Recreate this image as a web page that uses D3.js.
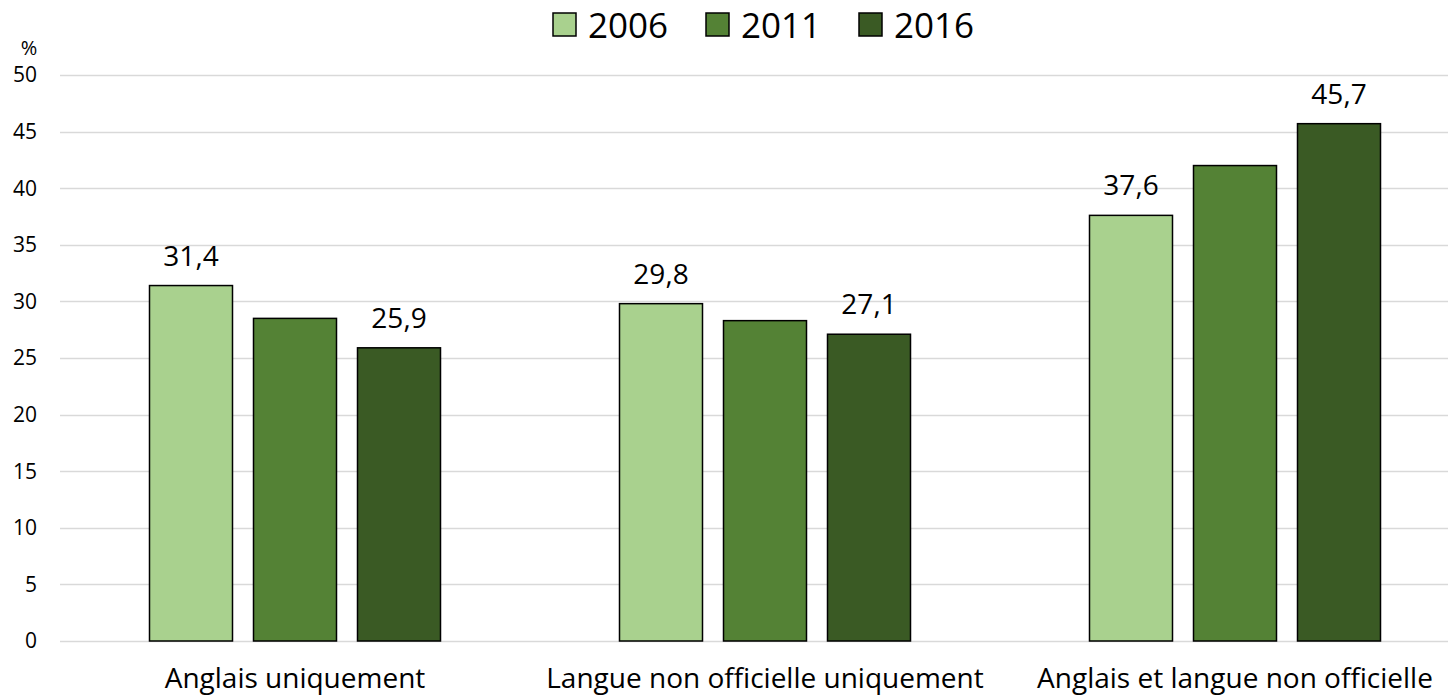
<!DOCTYPE html>
<html>
<head>
<meta charset="utf-8">
<script src="https://cdn.jsdelivr.net/npm/d3@7"></script>
<style>
  body { margin: 0; background: #fff; }
  text { font-family: "Open Sans", sans-serif; fill: #000; }
</style>
</head>
<body>
<div id="chart"></div>
<script>
// categories and series
var categories = ["Anglais uniquement", "Langue non officielle uniquement", "Anglais et langue non officielle"];
var years = ["2006", "2011", "2016"];
var values2006 = [31.4, 29.8, 37.6];
var values2011 = [28.5, 28.3, 42.0];
var values2016 = [25.9, 27.1, 45.7];
var colors = ["#A9D18E", "#548235", "#3A5A24"];
// which bars carry a value label (as in the original)
var labelled = [[true, false, true], [true, false, true], [true, false, true]];
var yTicks = [0, 5, 10, 15, 20, 25, 30, 35, 40, 45, 50];

(function() {
    var width = 1448,
        height = 697;

    var svg = d3.select("#chart").append("svg")
        .attr("width", width).attr("height", height);

    var series = [values2006, values2011, values2016];

    var x = d3.scaleBand().domain(categories).range([60, 1470]);
    // inner band for the three bars of a group
    var xi = d3.scaleBand().domain(years)
        .range([0, 104 * 3 - 21]).paddingInner(21 / 104);

    var y = d3.scaleLinear().domain([0, 50]).range([641, 75]);

    //gridlines
    svg.append("g").selectAll("line")
        .data(yTicks).enter().append("line")
        .attr("x1", 60).attr("x2", width)
        .attr("y1", function(d) { return Math.round(y(d)) + 0.5; })
        .attr("y2", function(d) { return Math.round(y(d)) + 0.5; })
        .attr("stroke", "#D9D9D9").attr("stroke-width", 1.5);

    //y tick labels
    svg.append("g").selectAll("text")
        .data(yTicks).enter().append("text")
        .attr("x", 37).attr("y", function(d) { return y(d); })
        .attr("dy", "0.35em")
        .attr("text-anchor", "end")
        .style("font-size", "21px")
        .text(function(d) { return d; });

    svg.append("text")
        .attr("x", 29).attr("y", 55)
        .attr("text-anchor", "middle")
        .style("font-size", "20px")
        .text("%");

    //bars
    var groups = svg.append("g").selectAll("g")
        .data(categories).enter().append("g")
        .attr("transform", function(d) {
            return "translate(" + (x(d) + (x.bandwidth() - (104 * 3 - 21)) / 2) + ",0)";
        });

    groups.each(function(cat, ci) {
        var g = d3.select(this);
        years.forEach(function(yr, si) {
            var v = series[si][ci];
            g.append("rect")
                .attr("x", xi(yr))
                .attr("y", y(v))
                .attr("width", xi.bandwidth())
                .attr("height", y(0) - y(v))
                .attr("fill", colors[si])
                .attr("stroke", "#000")
                .attr("stroke-width", 1.5);
            if (labelled[ci][si]) {
                g.append("text")
                    .attr("x", xi(yr) + xi.bandwidth() / 2)
                    .attr("y", y(v) - 20)
                    .attr("text-anchor", "middle")
                    .style("font-size", "28px")
                    .text(d3.format(".1f")(v).replace(".", ","));
            }
        });
    });

    //category labels
    svg.append("g").selectAll("text")
        .data(categories).enter().append("text")
        .attr("x", function(d) { return x(d) + x.bandwidth() / 2; })
        .attr("y", 688)
        .attr("text-anchor", "middle")
        .style("font-size", "28px")
        .text(function(d) { return d; });

    //legend
    var legendX = [553, 706, 859];
    var legend = svg.append("g").selectAll("g")
        .data(years).enter().append("g")
        .attr("transform", function(d, i) { return "translate(" + legendX[i] + ",13)"; });

    legend.append("rect")
        .attr("width", 23).attr("height", 23)
        .attr("fill", function(d, i) { return colors[i]; })
        .attr("stroke", "#000").attr("stroke-width", 1.5);

    legend.append("text")
        .attr("x", 35).attr("y", 25)
        .style("font-size", "35px")
        .text(function(d) { return d; });
})();
</script>
</body>
</html>
